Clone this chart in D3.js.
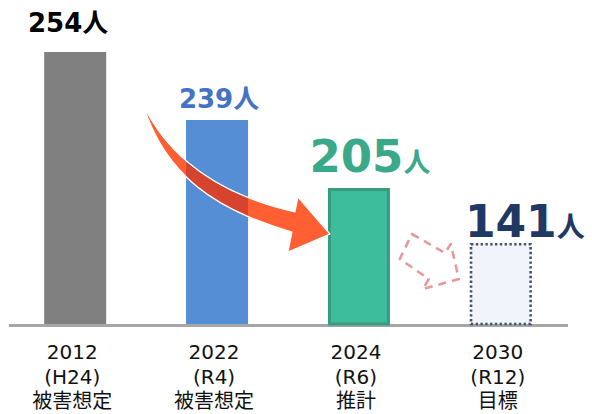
<!DOCTYPE html>
<html><head><meta charset="utf-8">
<script src="https://cdn.jsdelivr.net/npm/d3@7"></script>
<style>
html,body{margin:0;padding:0;background:#fff;}
svg{display:block;}
</style></head>
<body>
<svg id="chart" width="592" height="414"></svg>
<script>
// ---- data ----
const years = ["2012", "2022", "2024", "2030"];
const eras = ["(H24)", "(R4)", "(R6)", "(R12)"];
const kinds = ["被害想定", "被害想定", "推計", "目標"];
const values = [254, 239, 205, 141];
const unit = "人";

// ---- layout ----
const W = 592, H = 414;
const baseY = 324;
const svg = d3.select("#chart");

const x = d3.scaleBand().domain(years).range([8, 568]).paddingInner(0.563).paddingOuter(0.255);
// stylised (non-proportional) value axis of the infographic
const y = d3.scaleLinear().domain([0, 141, 205, 239, 254]).range([baseY, 243, 188, 120, 52]);

const fills = ["#808080", "#558ED5", "#3EBD9C", "#F0F5FB"];
const strokes = [null, null, "#3A9A7E", "#44546A"];
const labelColors = ["#000000", "#4472C4", "#3AA98A", "#1F3864"];
const numSize = [26, 26, 45, 44];
const unitSize = [26, 26, 27, 28];
const labelDx = [-7, 2, 11, 24];
const labelGap = [20, 12, 16, 6];

// axis line
svg.append("line")
  .attr("x1", x.range()[0] + 1).attr("x2", x.range()[1])
  .attr("y1", baseY + 1.5).attr("y2", baseY + 1.5)
  .attr("stroke", "#A6A6A6").attr("stroke-width", 3);

// bars
const bars = svg.append("g");
values.forEach((v, i) => {
  const bx = x(years[i]), bw = x.bandwidth(), by = y(v), bh = baseY - y(v);
  const r = bars.append("rect").attr("fill", fills[i]);
  if (i === 2) {
    r.attr("x", bx + 1.5).attr("y", by + 1.5).attr("width", bw - 3).attr("height", bh - 1.5)
     .attr("stroke", strokes[i]).attr("stroke-width", 3);
  } else if (i === 3) {
    r.attr("x", bx + 1.2).attr("y", by + 1.2).attr("width", bw - 2.4).attr("height", bh - 1.2)
     .attr("stroke", strokes[i]).attr("stroke-width", 2.6).attr("stroke-dasharray", "2.4,2.4");
  } else {
    r.attr("x", bx).attr("y", by).attr("width", bw).attr("height", bh);
  }
});

// big curved arrow (decorative)
const b1 = x(years[0]) + x.bandwidth(), b3 = x(years[2]);
const arrowD = `M${b1+37},105 C${b1+64},160 ${b1+114},195 ${b3-33},212 L${b3-30},197 L${b3+2},234 L${b3-40},252 L${b3-36},232 C${b1+109},210 ${b1+59},175 ${b1+37},105 Z`;
svg.append("path").attr("d", arrowD).attr("fill", "#FF5F33")
  .attr("stroke", "#fff").attr("stroke-width", 1.2).attr("stroke-linejoin", "round");
svg.append("clipPath").attr("id", "bar2clip").append("rect")
  .attr("x", x(years[1])).attr("y", y(values[1])).attr("width", x.bandwidth()).attr("height", baseY - y(values[1]));
svg.append("path").attr("d", arrowD).attr("fill", "#D6432E")
  .attr("stroke", "#fff").attr("stroke-width", 1.2).attr("clip-path", "url(#bar2clip)");

// dashed outline arrow (decorative)
const b4 = x(years[3]);
const dashPts = [[b4-58,234],[b4-25,253],[b4-19,244],[b4-11,279],[b4-47,289],[b4-41,279],[b4-70,259]];
svg.append("path").attr("d", d3.line()(dashPts) + "Z")
  .attr("fill", "none").attr("stroke", "#E8989A").attr("stroke-width", 2.6)
  .attr("stroke-dasharray", "8,6").attr("stroke-linejoin", "round");

// value labels
values.forEach((v, i) => {
  const cx = x(years[i]) + x.bandwidth() / 2 + labelDx[i];
  const t = svg.append("text")
    .attr("x", cx).attr("y", y(v) - labelGap[i])
    .attr("text-anchor", "middle").attr("fill", labelColors[i])
    .attr("font-weight", "bold");
  t.append("tspan").text(v)
    .attr("font-family", "'DejaVu Sans', Verdana, sans-serif").attr("font-size", numSize[i]);
  t.append("tspan").text(unit)
    .attr("font-family", "'Noto Sans CJK JP', sans-serif").attr("font-size", unitSize[i]);
});

// category labels
const catLines = [years, eras, kinds];
const lineY = [359, 384, 408];
catLines.forEach((arr, li) => {
  svg.append("g").selectAll("text").data(arr).join("text")
    .attr("x", (d, i) => x(years[i]) + x.bandwidth() / 2 - 3)
    .attr("y", lineY[li])
    .attr("text-anchor", "middle")
    .attr("font-family", li === 2 ? "'Noto Sans CJK JP', sans-serif" : "'DejaVu Sans', Verdana, sans-serif")
    .attr("font-size", 20).attr("fill", "#111")
    .text(d => d);
});
</script>
</body></html>
